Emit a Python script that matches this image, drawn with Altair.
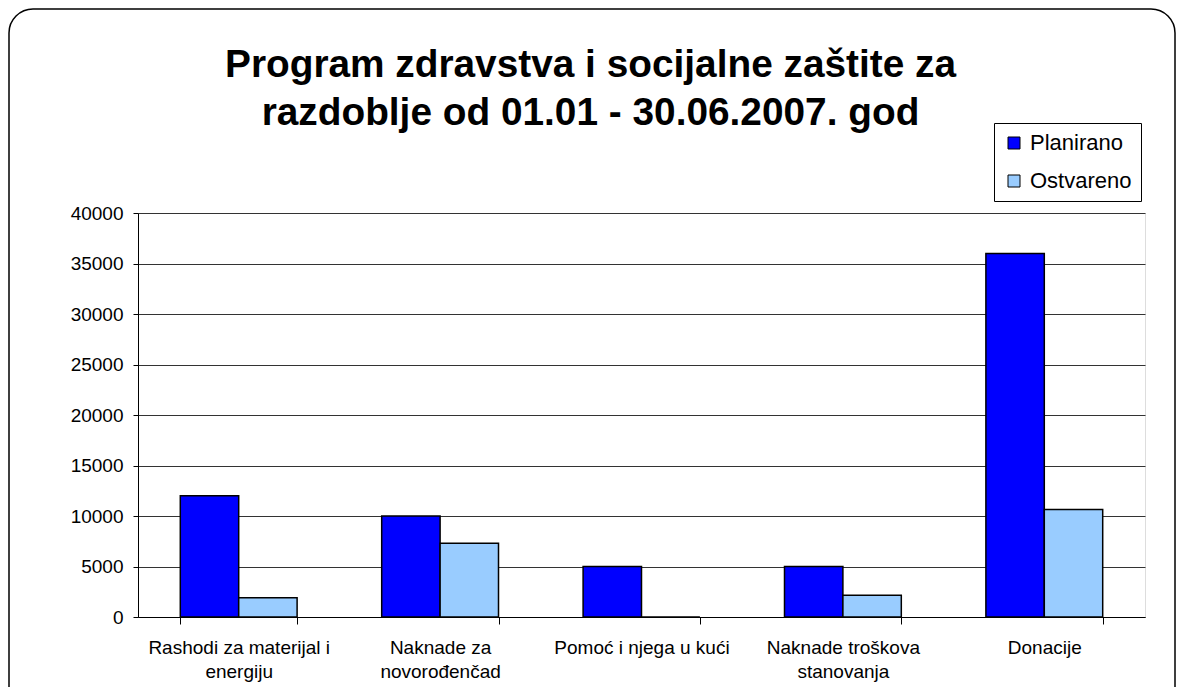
import altair as alt
import pandas as pd

categories = [
    "Rashodi za materijal i energiju",
    "Naknade za novorođenčad",
    "Pomoć i njega u kući",
    "Naknade troškova stanovanja",
    "Donacije",
]
label_lines = [
    ["Rashodi za materijal i", "energiju"],
    ["Naknade za", "novorođenčad"],
    ["Pomoć i njega u kući"],
    ["Naknade troškova", "stanovanja"],
    ["Donacije"],
]
series = ["Planirano", "Ostvareno"]
planirano = [12000, 10000, 5000, 5000, 36000]
ostvareno = [1900, 7300, 0, 2150, 10650]
colors = ["#0000FF", "#99CCFF"]
y_ticks = [0, 5000, 10000, 15000, 20000, 25000, 30000, 35000, 40000]

rows = []
for c, p, o in zip(categories, planirano, ostvareno):
    rows.append({"kategorija": c, "serija": "Planirano", "vrijednost": p})
    rows.append({"kategorija": c, "serija": "Ostvareno", "vrijednost": o})
df = pd.DataFrame(rows)

# label expression producing multi-line labels
expr = "datum.value"
for c, lines in reversed(list(zip(categories, label_lines))):
    arr = "[" + ",".join("'" + l + "'" for l in lines) + "]"
    expr = f"datum.value == '{c}' ? {arr} : ({expr})"

FONT = "Liberation Sans"

bars = alt.Chart(df).mark_bar(stroke="black", strokeWidth=1.5).encode(
    x=alt.X(
        "kategorija:N",
        sort=categories,
        title=None,
        scale=alt.Scale(paddingInner=0.42, paddingOuter=0.21),
        axis=alt.Axis(
            labelAngle=0,
            labelExpr=expr,
            labelLimit=0,
            tickBand="extent",
            tickSize=7,
            tickColor="black",
            domainColor="black",
            labelPadding=14,
            labelFontSize=19,
            labelLineHeight=24,
            labelFont=FONT,
            labelColor="black",
            grid=False,
        ),
    ),
    xOffset=alt.XOffset(
        "serija:N", sort=series, scale=alt.Scale(paddingInner=0, paddingOuter=0)
    ),
    y=alt.Y(
        "vrijednost:Q",
        title=None,
        scale=alt.Scale(domain=[0, 40000], nice=False),
        axis=alt.Axis(
            values=y_ticks,
            format="d",
            tickSize=5,
            tickColor="black",
            domainColor="black",
            labelPadding=10,
            labelFontSize=19,
            labelFont=FONT,
            labelColor="black",
            grid=True,
            gridColor="#333333",
            gridWidth=1,
        ),
    ),
    color=alt.Color(
        "serija:N",
        sort=series,
        scale=alt.Scale(domain=series, range=colors),
        legend=alt.Legend(
            title=None,
            orient="none",
            legendX=856,
            legendY=-90,
            symbolType="square",
            symbolSize=144,
            symbolStrokeColor="black",
            symbolStrokeWidth=1,
            symbolOpacity=1,
            labelFontSize=22,
            labelFont=FONT,
            labelColor="black",
            rowPadding=16,
            padding=9,
            strokeColor="black",
            fillColor="white",
            labelOffset=5,
        ),
    ),
)

frame = alt.Chart(pd.DataFrame({"f": [0]})).mark_rect(
    fill=None, stroke="black", strokeWidth=1.5, cornerRadius=24, clip=False
).encode(
    x=alt.value(-129),
    x2=alt.value(1037),
    y=alt.value(-204),
    y2=alt.value(520),
)

chart = alt.layer(frame, bars).properties(
    width=1007,
    height=404,
    autosize=alt.AutoSizeParams(type="none"),
    padding={"left": 130, "top": 205, "right": 31, "bottom": 70},
    title=alt.TitleParams(
        text=["Program zdravstva i socijalne zaštite za", "razdoblje od 01.01 - 30.06.2007. god"],
        font=FONT,
        fontSize=38.8,
        fontWeight="bold",
        color="black",
        anchor="middle",
        frame="group",
        baseline="alphabetic",
        offset=-156,
        dx=-51,
        lineHeight=48,
    ),
).configure_view(
    fill="#C0C0C0", stroke="#808080", strokeWidth=1.5
).configure(background="white")

chart.save("out.html", embed_options={"renderer": "svg", "actions": False})
